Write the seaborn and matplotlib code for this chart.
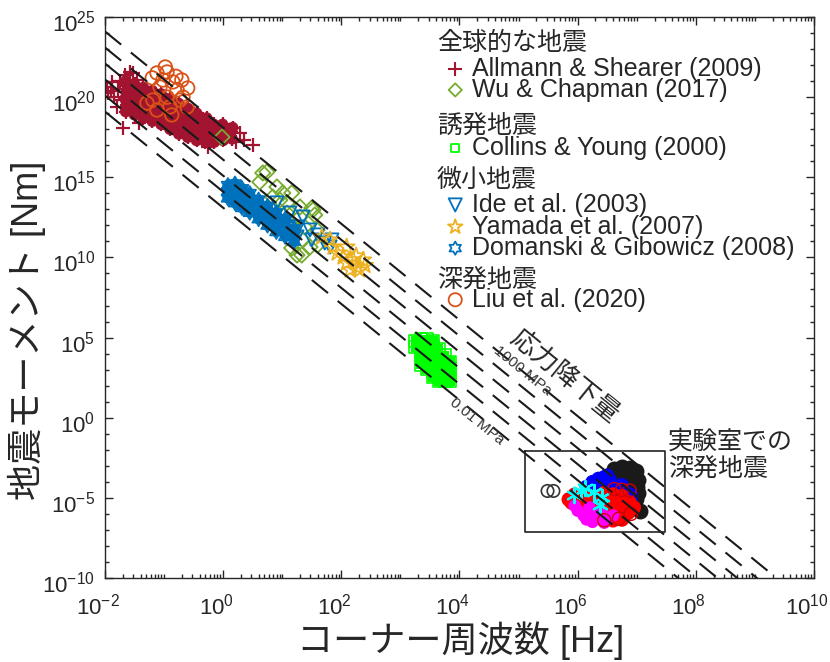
import numpy as np
import pandas as pd
import seaborn as sns
import matplotlib.pyplot as plt
from matplotlib.path import Path
from matplotlib.transforms import ScaledTranslation
from matplotlib.ticker import FixedLocator, LogLocator, NullFormatter, LogFormatterSciNotation

# values, as log10(corner frequency [Hz]) / log10(moment [Nm])
allmann_logf = [-1.65, -1.63, -1.66, -1.64, -1.62, -1.65,
                -1.50, -1.52, -1.49, -1.51, -1.48, -1.50,
                -1.35, -1.37, -1.34, -1.36, -1.33, -1.35,
                -1.20, -1.22, -1.19, -1.21, -1.18, -1.20,
                -1.05, -1.07, -1.04, -1.06, -1.03, -1.05,
                -0.90, -0.92, -0.89, -0.91, -0.88, -0.90,
                -0.75, -0.77, -0.74, -0.76, -0.73, -0.75,
                -0.60, -0.62, -0.59, -0.61, -0.58, -0.60,
                -0.45, -0.47, -0.44, -0.46, -0.43, -0.45,
                -0.30, -0.32, -0.29, -0.31, -0.28,
                -0.15, -0.17, -0.14, -0.16,
                0.00, -0.02, 0.01, -0.01,
                0.15, 0.13, 0.16]
allmann_logm = [19.1, 19.5, 19.9, 20.3, 20.7, 21.0,
                18.9, 19.3, 19.7, 20.1, 20.5, 20.8,
                18.7, 19.1, 19.5, 19.9, 20.3, 20.6,
                18.5, 18.9, 19.3, 19.7, 20.1, 20.4,
                18.3, 18.7, 19.1, 19.5, 19.9, 20.2,
                18.0, 18.4, 18.8, 19.2, 19.6, 19.9,
                17.7, 18.1, 18.5, 18.9, 19.3, 19.6,
                17.5, 17.9, 18.3, 18.7, 19.1, 19.3,
                17.3, 17.7, 18.1, 18.5, 18.8, 19.0,
                17.2, 17.6, 18.0, 18.4, 18.7,
                17.2, 17.6, 18.0, 18.3,
                17.3, 17.7, 18.0, 18.3,
                17.4, 17.8, 18.1]
allmann_out_logf = [-1.97, -1.88, -1.66, -1.53, -1.80, -1.95, -1.85, -1.78, -1.72, -1.70,
                    0.50, 0.28, 0.35, -1.42, -0.25, -1.75, -1.58, 0.22, -1.90, -1.45]
allmann_out_logm = [20.63, 20.95, 21.38, 21.50, 19.40, 20.26, 20.00, 20.50, 19.80, 18.08,
                    17.00, 17.76, 17.30, 18.40, 16.90, 21.00, 21.60, 17.20, 20.40, 21.10]

wu_logf = [-0.02, 0.67, 0.74, 0.62, 0.91, 1.01, 1.16, 0.84, 1.08, 1.30, 1.50, 1.52, 1.30,
           1.18, 1.38, 1.55, 1.08, 1.59, 0.96, 1.35, 1.25, 1.47, 1.16, 1.60, 1.33]
wu_logm = [17.51, 15.27, 15.33, 14.71, 14.40, 14.02, 14.02, 13.77, 13.40, 13.15, 13.08, 12.96, 12.52,
           11.90, 11.90, 12.65, 12.77, 11.71, 13.58, 11.09, 10.15, 10.65, 10.59, 10.78, 10.15]

collins_logf = [3.25, 3.25,
                3.35, 3.35, 3.35, 3.35, 3.35,
                3.45, 3.45, 3.45, 3.45, 3.45, 3.45,
                3.55, 3.55, 3.55, 3.55, 3.55, 3.55, 3.55,
                3.65, 3.65, 3.65, 3.65, 3.65, 3.65,
                3.75, 3.75, 3.75, 3.75, 3.75,
                3.84, 3.84, 3.84, 3.84]
collins_logm = [4.4, 4.8,
                3.3, 3.7, 4.1, 4.5, 4.9,
                3.0, 3.4, 3.8, 4.2, 4.6, 4.9,
                2.5, 2.9, 3.3, 3.7, 4.1, 4.5, 4.8,
                2.3, 2.7, 3.1, 3.5, 3.9, 4.3,
                2.3, 2.7, 3.1, 3.5, 3.9,
                2.3, 2.7, 3.1, 3.5]

ide_logf = [0.91, 1.13, 1.35, 1.27, 1.47, 1.25, 1.60, 1.72, 1.50, 1.84, 1.81]
ide_logm = [13.40, 12.77, 12.52, 11.90, 11.71, 11.28, 11.40, 10.90, 11.09, 11.09, 10.65]

yamada_logf = [1.81, 1.93, 2.09, 2.26, 2.37, 2.15, 2.03, 2.20, 2.31, 1.86, 2.09, 1.67, 2.40, 2.25]
yamada_logm = [11.09, 10.28, 9.65, 9.40, 9.84, 9.22, 10.03, 9.84, 9.22, 10.65, 10.65, 11.28, 9.50, 10.10]

domanski_logf = [0.08, 0.08, 0.08,
                 0.20, 0.20, 0.20, 0.20,
                 0.32, 0.32, 0.32, 0.32,
                 0.45, 0.45, 0.45, 0.45,
                 0.60, 0.60, 0.60, 0.60,
                 0.75, 0.75, 0.75, 0.75,
                 0.90, 0.90, 0.90, 0.90,
                 1.05, 1.05, 1.05, 1.05,
                 1.20, 1.20, 1.20]
domanski_logm = [13.7, 14.1, 14.5,
                 13.4, 13.8, 14.2, 14.6,
                 13.1, 13.5, 13.9, 14.3,
                 12.8, 13.2, 13.6, 14.0,
                 12.4, 12.8, 13.2, 13.6,
                 12.0, 12.4, 12.8, 13.2,
                 11.6, 12.0, 12.4, 12.8,
                 11.3, 11.7, 12.1, 12.4,
                 11.0, 11.4, 11.8]

liu_logf = [-1.12, -0.95, -0.85, -0.60, -1.07, -1.19, -0.95, -0.73, -1.12, -0.90,
            -0.68, -1.02, -0.78, -1.29, -0.61, -0.87, -1.20, -0.70, -0.98, -0.80]
liu_logm = [21.51, 21.57, 20.95, 20.57, 20.63, 19.82, 20.00, 19.82, 19.20, 19.39,
            20.00, 21.07, 20.45, 19.63, 19.39, 18.89, 21.20, 21.07, 21.88, 21.30]

# laboratory deep-focus events
lab_black_logf = [6.62, 6.75, 6.88, 6.98, 6.68, 6.82, 6.95, 7.02, 6.90, 7.00, 7.02, 6.98,
                  6.95, 6.75, 6.60, 6.85, 7.05]
lab_black_logm = [-3.2, -3.1, -3.15, -3.3, -3.5, -3.45, -3.6, -3.9, -3.9, -4.3, -4.7, -5.1,
                  -5.5, -3.8, -3.7, -4.2, -5.8]
lab_blue_logf = [6.15, 6.25, 6.35, 6.45, 6.55, 6.40, 6.60, 6.70, 6.80, 6.90, 6.90, 6.50, 6.30, 6.75]
lab_blue_logm = [-4.3, -4.0, -3.8, -3.7, -3.9, -4.2, -4.3, -4.5, -4.6, -4.8, -5.1, -3.6, -4.3, -4.2]
lab_red_logf = [5.85, 5.95, 6.00, 6.15, 6.30, 6.45, 6.60, 6.75, 6.88, 6.95, 6.80,
                6.60, 6.45, 6.30, 6.50, 6.70, 6.85, 6.20, 6.40, 6.60, 6.75, 6.10, 5.90]
lab_red_logm = [-5.1, -4.8, -5.5, -5.0, -5.0, -4.7, -4.8, -4.9, -5.3, -5.6, -5.6,
                -5.4, -5.5, -5.8, -6.0, -6.1, -5.95, -6.0, -6.3, -6.4, -6.35, -5.6, -5.3]
lab_magenta_logf = [6.00, 6.10, 6.20, 6.30, 6.40, 6.50, 6.15, 6.60, 5.95, 6.25, 6.45]
lab_magenta_logm = [-5.8, -6.1, -5.6, -6.2, -5.9, -6.3, -6.35, -6.1, -5.5, -6.5, -6.55]
lab_cyan_logf = [5.93, 6.38, 6.12, 6.28, 6.42, 6.05]
lab_cyan_logm = [-4.85, -5.45, -4.40, -4.65, -4.95, -4.60]
lab_redcirc_logf = [6.62, 6.75, 6.88, 6.45, 6.70, 6.90]
lab_redcirc_logm = [-4.45, -4.50, -4.55, -6.40, -6.30, -6.00]
lab_pair_logf = [5.49, 5.59]
lab_pair_logm = [-4.57, -4.57]
lab_box_f = [1.3e5, 3.0e7]
lab_box_m = [7.5e-8, 8.5e-3]

# constant stress drop lines, M0 = 16/7 * dsigma * (k * beta / fc)^3
stress_drops_mpa = [0.01, 0.1, 1, 10, 100, 1000]
k_madariaga = 0.21
beta = 3900.0


def pts(logf, logm):
    return pd.DataFrame({'fc': np.power(10.0, logf), 'm0': np.power(10.0, logm)})


sns.set_theme(style='ticks')
plt.rcParams['font.family'] = ['Liberation Sans', 'Noto Sans CJK JP']
plt.rcParams['mathtext.fontset'] = 'custom'
plt.rcParams['mathtext.rm'] = 'Liberation Sans'
plt.rcParams['mathtext.it'] = 'Liberation Sans:italic'
plt.rcParams['mathtext.bf'] = 'Liberation Sans:bold'
plt.rcParams['axes.unicode_minus'] = False
plt.rcParams['axes.edgecolor'] = '#262626'

fig = plt.figure(figsize=(8.3, 6.62), dpi=100)
ax = fig.add_axes([0.1265, 0.1269, 0.8542, 0.8474])
ax.set_xscale('log')
ax.set_yscale('log')

hexagram = Path.unit_regular_star(6, 0.577)

c_allmann = '#A2142F'
c_wu = '#77AC30'
c_collins = '#00FF00'
c_blue = '#0072BD'
c_yamada = '#EDB120'
c_liu = '#D95319'

# global earthquakes
sns.scatterplot(data=pts(allmann_logf, allmann_logm), x='fc', y='m0', ax=ax, marker='o',
                s=70, color=c_allmann, edgecolor='none', linewidth=0, legend=False, zorder=2)
sns.scatterplot(data=pts(allmann_logf, allmann_logm), x='fc', y='m0', ax=ax, marker='+',
                s=110, color=c_allmann, linewidth=1.6, legend=False, zorder=2)
sns.scatterplot(data=pts(allmann_out_logf, allmann_out_logm), x='fc', y='m0', ax=ax, marker='+',
                s=110, color=c_allmann, linewidth=1.6, legend=False, zorder=2)
sns.scatterplot(data=pts(liu_logf, liu_logm), x='fc', y='m0', ax=ax, marker='o', s=95,
                color=c_liu, facecolor='none', edgecolor=c_liu, linewidth=1.3, legend=False, zorder=2)
sns.scatterplot(data=pts(wu_logf, wu_logm), x='fc', y='m0', ax=ax, marker='D', s=60,
                color=c_wu, facecolor='none', edgecolor=c_wu, linewidth=1.3, legend=False, zorder=2)

# microearthquakes
sns.scatterplot(data=pts(domanski_logf, domanski_logm), x='fc', y='m0', ax=ax, marker='o',
                s=60, color=c_blue, edgecolor='none', linewidth=0, legend=False, zorder=2)
sns.scatterplot(data=pts(domanski_logf, domanski_logm), x='fc', y='m0', ax=ax, marker=hexagram,
                s=110, color=c_blue, facecolor='none', edgecolor=c_blue, linewidth=1.2, legend=False, zorder=2)
sns.scatterplot(data=pts(ide_logf, ide_logm), x='fc', y='m0', ax=ax, marker='v', s=90,
                color=c_blue, facecolor='none', edgecolor=c_blue, linewidth=1.3, legend=False, zorder=2)
sns.scatterplot(data=pts(yamada_logf, yamada_logm), x='fc', y='m0', ax=ax, marker='*', s=150,
                color=c_yamada, facecolor='none', edgecolor=c_yamada, linewidth=1.2, legend=False, zorder=2)

# induced earthquakes
sns.scatterplot(data=pts(collins_logf, collins_logm), x='fc', y='m0', ax=ax, marker='s', s=45,
                color=c_collins, edgecolor='none', linewidth=0, legend=False, zorder=2)
sns.scatterplot(data=pts(collins_logf, collins_logm), x='fc', y='m0', ax=ax, marker='s', s=70,
                color=c_collins, facecolor='none', edgecolor=c_collins, linewidth=1.2, legend=False, zorder=2)

# laboratory
sns.scatterplot(data=pts(lab_black_logf, lab_black_logm), x='fc', y='m0', ax=ax, marker='o', s=110,
                color='k', facecolor='k', edgecolor='k', linewidth=1.0, legend=False, zorder=2)
sns.scatterplot(data=pts(lab_blue_logf, lab_blue_logm), x='fc', y='m0', ax=ax, marker='o', s=100,
                color='#0000FF', edgecolor='none', linewidth=0, legend=False, zorder=2)
sns.scatterplot(data=pts(lab_red_logf, lab_red_logm), x='fc', y='m0', ax=ax, marker='o', s=110,
                color='#FF0000', edgecolor='none', linewidth=0, legend=False, zorder=2)
sns.scatterplot(data=pts(lab_magenta_logf, lab_magenta_logm), x='fc', y='m0', ax=ax, marker='o', s=80,
                color='#FF00FF', edgecolor='none', linewidth=0, legend=False, zorder=2)
sns.scatterplot(data=pts(lab_cyan_logf, lab_cyan_logm), x='fc', y='m0', ax=ax, marker=(6, 2, 0), s=120,
                color='#00FFFF', linewidth=1.6, legend=False, zorder=2)
sns.scatterplot(data=pts(lab_redcirc_logf, lab_redcirc_logm), x='fc', y='m0', ax=ax, marker='o', s=90,
                color='#FF0000', facecolor='none', edgecolor='#D00000', linewidth=1.0, legend=False, zorder=2)
sns.scatterplot(data=pts(lab_pair_logf, lab_pair_logm), x='fc', y='m0', ax=ax, marker='o', s=80,
                color='#333333', facecolor='none', edgecolor='#333333', linewidth=1.2, legend=False, zorder=2)
ax.plot([lab_box_f[0], lab_box_f[1], lab_box_f[1], lab_box_f[0], lab_box_f[0]],
        [lab_box_m[1], lab_box_m[1], lab_box_m[0], lab_box_m[0], lab_box_m[1]],
        color='#222222', lw=1.2, zorder=4)

# stress drop lines
fc = np.logspace(-2, 10, 200)
for ds in stress_drops_mpa:
    m0 = 16.0 / 7.0 * ds * 1e6 * (k_madariaga * beta / fc) ** 3
    ax.plot(fc, m0, color='k', lw=1.5, dashes=(10, 6), zorder=3)

ax.set_xlim(1e-2, 1e10)
ax.set_ylim(1e-10, 1e25)

ax.xaxis.set_major_locator(FixedLocator(10.0 ** np.arange(-2, 11, 2)))
ax.xaxis.set_minor_locator(LogLocator(base=10, subs=np.arange(1, 10), numticks=200))
ax.xaxis.set_major_formatter(LogFormatterSciNotation(base=10))
ax.xaxis.set_minor_formatter(NullFormatter())
ax.yaxis.set_major_locator(FixedLocator(10.0 ** np.arange(-10, 26, 5)))
ax.yaxis.set_minor_locator(FixedLocator(10.0 ** np.arange(-10, 26, 1)))
ax.yaxis.set_major_formatter(LogFormatterSciNotation(base=10))
ax.yaxis.set_minor_formatter(NullFormatter())
ax.tick_params(which='both', direction='in', top=True, right=True, color='#262626', width=1.0)
ax.tick_params(which='major', length=5.5, labelsize=16, pad=7)
ax.tick_params(axis='x', which='major', pad=11)
ax.tick_params(which='minor', length=3)
for sp in ax.spines.values():
    sp.set_linewidth(1.0)

# tick labels sit a little left (x) and low (y) of their ticks in the original
shift_x = ScaledTranslation(-7 / 100, 0, fig.dpi_scale_trans)
shift_y = ScaledTranslation(0, -4 / 100, fig.dpi_scale_trans)
for lab in ax.get_xticklabels():
    lab.set_transform(lab.get_transform() + shift_x)
for lab in ax.get_yticklabels():
    lab.set_transform(lab.get_transform() + shift_y)

ax.set_xlabel('コーナー周波数 [Hz]', fontsize=26)
ax.set_ylabel('地震モーメント [Nm]', fontsize=26)
ax.xaxis.set_label_coords(0.502, -0.078)
ax.yaxis.set_label_coords(-0.083, 0.442)

# annotations
ax.text(10 ** 5.78, 10 ** 2.6, '応力降下量', fontsize=19, rotation=-39,
        ha='center', va='center', zorder=5)
ax.text(10 ** 5.06, 10 ** 2.92, '1000 MPa', fontsize=11, rotation=-39, color='#333333',
        ha='center', va='center', zorder=5)
ax.text(10 ** 4.29, 10 ** -0.26, '0.01 MPa', fontsize=11, rotation=-39, color='#333333',
        ha='center', va='center', zorder=5)
ax.text(0.794, 0.219, '実験室での\n深発地震', transform=ax.transAxes, fontsize=18,
        ha='left', va='center', linespacing=1.15, zorder=5)

# grouped legend
legend_rows = [
    ('header', '全球的な地震', None, None, 0.954),
    ('entry', 'Allmann & Shearer (2009)', '+', c_allmann, 0.907),
    ('entry', 'Wu & Chapman (2017)', 'D', c_wu, 0.870),
    ('header', '誘発地震', None, None, 0.807),
    ('entry', 'Collins & Young (2000)', 's', c_collins, 0.766),
    ('header', '微小地震', None, None, 0.709),
    ('entry', 'Ide et al. (2003)', 'v', c_blue, 0.665),
    ('entry', 'Yamada et al. (2007)', '*', c_yamada, 0.626),
    ('entry', 'Domanski & Gibowicz (2008)', hexagram, c_blue, 0.588),
    ('header', '深発地震', None, None, 0.531),
    ('entry', 'Liu et al. (2020)', 'o', c_liu, 0.496),
]
legend_sizes = {'+': 110, 'D': 45, 's': 35, 'v': 90, '*': 120, 'o': 90}
for kind, label, mk, col, yy in legend_rows:
    if kind == 'header':
        ax.text(0.468, yy, label, transform=ax.transAxes, fontsize=18, ha='left', va='center', zorder=6)
    else:
        size = legend_sizes.get(mk, 90) if isinstance(mk, str) else 90
        if mk == '+':
            ax.scatter([0.494], [yy], transform=ax.transAxes, marker=mk, s=size, color=col,
                       linewidth=1.5, zorder=6, clip_on=False)
        else:
            ax.scatter([0.494], [yy], transform=ax.transAxes, marker=mk, s=size, facecolor='none',
                       edgecolor=col, linewidth=1.3, zorder=6, clip_on=False)
        ax.text(0.518, yy, label, transform=ax.transAxes, fontsize=18, ha='left', va='center', zorder=6)

fig.savefig('out.png', dpi=100)
